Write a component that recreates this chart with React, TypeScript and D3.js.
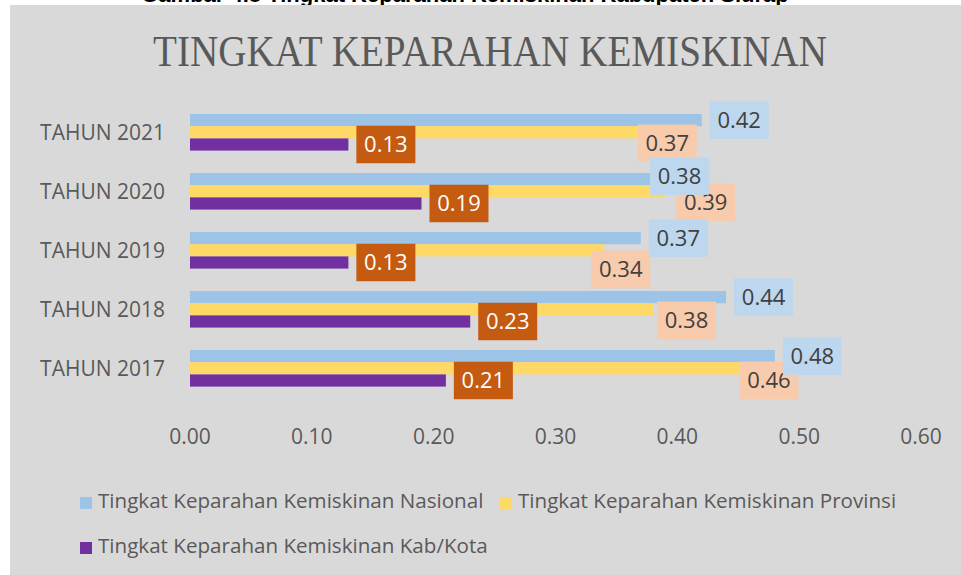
import React from 'react';
import * as d3 from 'd3';

// ---- data ----
const categories = ['TAHUN 2021', 'TAHUN 2020', 'TAHUN 2019', 'TAHUN 2018', 'TAHUN 2017'];
const nasional = [0.42, 0.38, 0.37, 0.44, 0.48];
const provinsi = [0.37, 0.39, 0.34, 0.38, 0.46];
const kabKota = [0.13, 0.19, 0.13, 0.23, 0.21];
const seriesNames = [
  'Tingkat Keparahan Kemiskinan Nasional',
  'Tingkat Keparahan Kemiskinan Provinsi',
  'Tingkat Keparahan Kemiskinan Kab/Kota',
];
const xTickValues = [0, 0.1, 0.2, 0.3, 0.4, 0.5, 0.6];
const title = 'TINGKAT KEPARAHAN KEMISKINAN';
const caption = 'Gambar 4.8 Tingkat Keparahan Kemiskinan Kabupaten Sidrap';

// ---- layout / style (not data) ----
const W = 961;
const H = 575;
const barColors = ['#9dc3e6', '#ffd966', '#7030a0'];
const labelFill = ['#bdd7ee', '#f8cbad', '#c55a11'];
const labelText = ['#404040', '#404040', '#ffffff'];
// manual label nudges (dx, dy) per series, per category, as placed in the original
const nudgeDx = [
  [0, -11, 0, 0, 0],
  [-11, 3, -21, -4, -19],
  [0, 0, 0, 0, 0],
];
const nudgeDy = [
  [0, -3, 0, 0, 0],
  [11, 11, 19, 11, 12],
  [0, 0, 0, 0, 0],
];

export default function App() {
  const series = [nasional, provinsi, kabKota];
  const x = d3.scaleLinear().domain([0, 0.6]).range([190, 921]);
  const y = d3
    .scaleBand<string>()
    .domain(categories)
    .range([102.8, 397.8])
    .paddingInner(0.38)
    .paddingOuter(0.19);
  const ys = d3
    .scaleBand<number>()
    .domain([0, 1, 2])
    .range([0, y.bandwidth()]);

  const boxW = 59;
  const boxH = 37.5;
  const labelFont = 22;

  const labelFor = (si: number) =>
    series[si].map((v, ci) => {
      const cy = (y(categories[ci]) as number) + (ys(si) as number) + ys.bandwidth() / 2 + nudgeDy[si][ci];
      const bx = x(v) + 8 + nudgeDx[si][ci];
      return (
        <g key={`l-${si}-${ci}`}>
          <rect x={bx} y={cy - boxH / 2} width={boxW} height={boxH} fill={labelFill[si]} />
          <text
            x={bx + boxW / 2}
            y={cy + 0.357 * labelFont}
            textAnchor="middle"
            fontSize={labelFont}
            fill={labelText[si]}
            fontFamily="'Open Sans', sans-serif"
          >
            {v.toFixed(2)}
          </text>
        </g>
      );
    });

  const legendItems = [
    { i: 0, x: 80, y: 497 },
    { i: 1, x: 500, y: 497 },
    { i: 2, x: 80, y: 542 },
  ];

  return (
    <svg
      width={W}
      height={H}
      style={{ position: 'absolute', left: 0, top: 0, display: 'block' }}
      xmlns="http://www.w3.org/2000/svg"
    >
      <rect x={0} y={0} width={W} height={H} fill="#ffffff" />
      <text
        x={465}
        y={2}
        textAnchor="middle"
        fontSize={22}
        fontWeight="bold"
        fontFamily="'Liberation Sans', Arial, sans-serif"
        fill="#000000"
      >
        {caption}
      </text>
      <rect x={10} y={5} width={W - 10} height={H - 5} fill="#d9d9d9" />

      <text
        x={490}
        y={66}
        textAnchor="middle"
        fontSize={44}
        textLength={674}
        lengthAdjust="spacingAndGlyphs"
        fontFamily="'Liberation Serif', 'DejaVu Serif', serif"
        fill="#595959"
      >
        {title}
      </text>

      {/* category labels */}
      {categories.map((c) => (
        <text
          key={c}
          x={165}
          y={(y(c) as number) + y.bandwidth() / 2 + 7.2}
          textAnchor="end"
          fontSize={21}
          fill="#595959"
          fontFamily="'Open Sans', sans-serif"
        >
          {c}
        </text>
      ))}

      {/* bars */}
      {series.map((vals, si) =>
        vals.map((v, ci) => (
          <rect
            key={`b-${si}-${ci}`}
            x={x(0)}
            y={(y(categories[ci]) as number) + (ys(si) as number)}
            width={x(v) - x(0)}
            height={ys.bandwidth()}
            fill={barColors[si]}
          />
        ))
      )}

      {/* x tick labels */}
      {xTickValues.map((t) => (
        <text
          key={t}
          x={x(t)}
          y={444}
          textAnchor="middle"
          fontSize={21}
          fill="#595959"
          fontFamily="'Open Sans', sans-serif"
        >
          {t.toFixed(2)}
        </text>
      ))}

      {/* data labels */}
      {labelFor(1)}
      {labelFor(2)}
      {labelFor(0)}

      {/* legend */}
      {legendItems.map((it) => (
        <g key={it.i}>
          <rect x={it.x} y={it.y} width={12} height={12} fill={barColors[it.i]} />
          <text
            x={it.x + 18}
            y={it.y + 11}
            fontSize={20.6}
            fill="#595959"
            fontFamily="'Open Sans', sans-serif"
          >
            {seriesNames[it.i]}
          </text>
        </g>
      ))}
    </svg>
  );
}
